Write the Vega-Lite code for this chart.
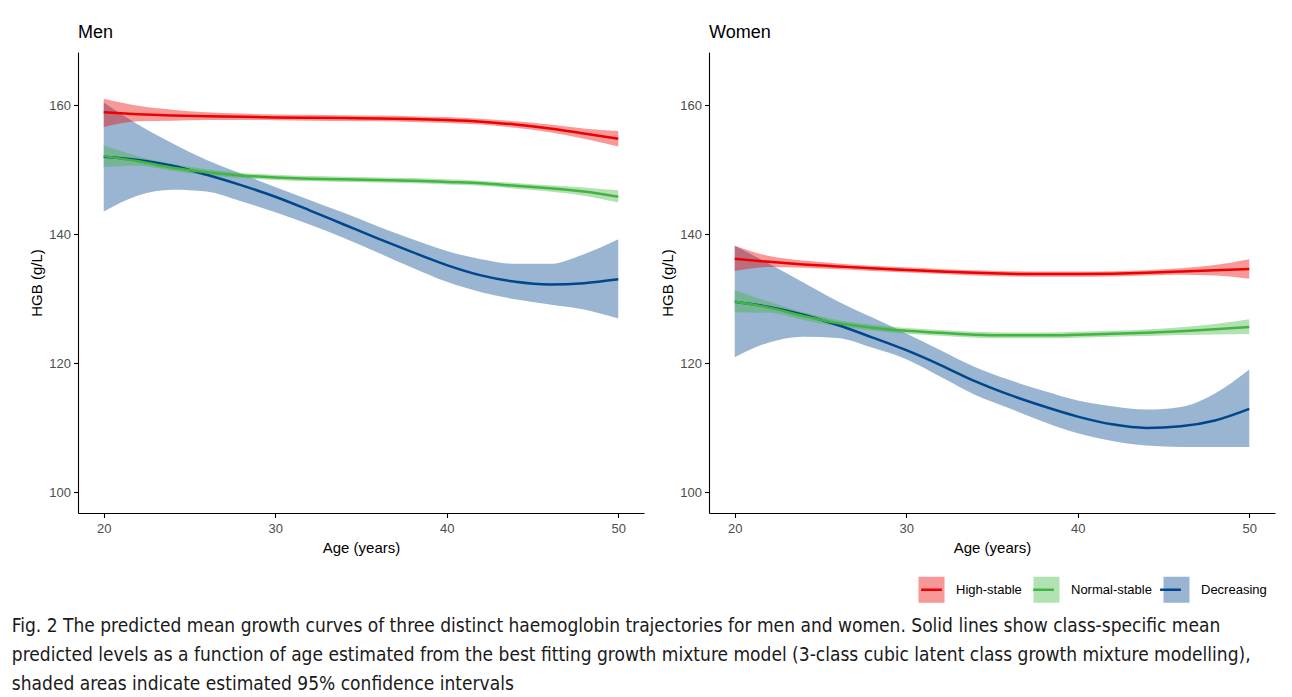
{
  "$schema": "https://vega.github.io/schema/vega-lite/v6.json",
  "background": "white",
  "padding": {"left": 11, "top": 24, "right": 10, "bottom": 5},
  "datasets": {
    "hgb": [
      {"sex":"Men","class":"Decreasing","age":20,"y":152.0,"lo":143.5,"hi":160.4},
      {"sex":"Men","class":"Decreasing","age":22,"y":151.5,"lo":146.0,"hi":157.0},
      {"sex":"Men","class":"Decreasing","age":24,"y":150.6,"lo":146.9,"hi":154.1},
      {"sex":"Men","class":"Decreasing","age":26,"y":149.2,"lo":146.6,"hi":151.5},
      {"sex":"Men","class":"Decreasing","age":28,"y":147.6,"lo":145.1,"hi":149.4},
      {"sex":"Men","class":"Decreasing","age":30,"y":145.8,"lo":143.4,"hi":147.3},
      {"sex":"Men","class":"Decreasing","age":32,"y":143.7,"lo":141.5,"hi":145.3},
      {"sex":"Men","class":"Decreasing","age":34,"y":141.5,"lo":139.4,"hi":143.3},
      {"sex":"Men","class":"Decreasing","age":36,"y":139.3,"lo":137.1,"hi":141.2},
      {"sex":"Men","class":"Decreasing","age":38,"y":137.2,"lo":134.8,"hi":139.2},
      {"sex":"Men","class":"Decreasing","age":40,"y":135.2,"lo":132.6,"hi":137.4},
      {"sex":"Men","class":"Decreasing","age":42,"y":133.6,"lo":131.0,"hi":136.1},
      {"sex":"Men","class":"Decreasing","age":44,"y":132.6,"lo":129.9,"hi":135.4},
      {"sex":"Men","class":"Decreasing","age":46,"y":132.2,"lo":129.1,"hi":135.4},
      {"sex":"Men","class":"Decreasing","age":48,"y":132.4,"lo":128.3,"hi":136.9},
      {"sex":"Men","class":"Decreasing","age":50,"y":133.0,"lo":126.9,"hi":139.2},
      {"sex":"Men","class":"High-stable","age":20,"y":158.9,"lo":156.6,"hi":161.0},
      {"sex":"Men","class":"High-stable","age":22,"y":158.6,"lo":157.5,"hi":159.9},
      {"sex":"Men","class":"High-stable","age":24,"y":158.4,"lo":157.6,"hi":159.3},
      {"sex":"Men","class":"High-stable","age":26,"y":158.3,"lo":157.7,"hi":158.9},
      {"sex":"Men","class":"High-stable","age":28,"y":158.2,"lo":157.7,"hi":158.7},
      {"sex":"Men","class":"High-stable","age":30,"y":158.1,"lo":157.65,"hi":158.55},
      {"sex":"Men","class":"High-stable","age":32,"y":158.05,"lo":157.6,"hi":158.5},
      {"sex":"Men","class":"High-stable","age":34,"y":158.0,"lo":157.55,"hi":158.45},
      {"sex":"Men","class":"High-stable","age":36,"y":157.95,"lo":157.5,"hi":158.4},
      {"sex":"Men","class":"High-stable","age":38,"y":157.85,"lo":157.4,"hi":158.3},
      {"sex":"Men","class":"High-stable","age":40,"y":157.7,"lo":157.25,"hi":158.15},
      {"sex":"Men","class":"High-stable","age":42,"y":157.45,"lo":157.0,"hi":157.9},
      {"sex":"Men","class":"High-stable","age":44,"y":157.0,"lo":156.5,"hi":157.5},
      {"sex":"Men","class":"High-stable","age":46,"y":156.4,"lo":155.8,"hi":157.0},
      {"sex":"Men","class":"High-stable","age":48,"y":155.6,"lo":154.8,"hi":156.4},
      {"sex":"Men","class":"High-stable","age":50,"y":154.8,"lo":153.6,"hi":156.0},
      {"sex":"Men","class":"Normal-stable","age":20,"y":152.1,"lo":150.4,"hi":153.8},
      {"sex":"Men","class":"Normal-stable","age":22,"y":151.3,"lo":150.6,"hi":152.1},
      {"sex":"Men","class":"Normal-stable","age":24,"y":150.3,"lo":149.8,"hi":150.9},
      {"sex":"Men","class":"Normal-stable","age":26,"y":149.6,"lo":149.15,"hi":150.05},
      {"sex":"Men","class":"Normal-stable","age":28,"y":149.1,"lo":148.7,"hi":149.5},
      {"sex":"Men","class":"Normal-stable","age":30,"y":148.8,"lo":148.4,"hi":149.2},
      {"sex":"Men","class":"Normal-stable","age":32,"y":148.6,"lo":148.2,"hi":149.0},
      {"sex":"Men","class":"Normal-stable","age":34,"y":148.5,"lo":148.1,"hi":148.9},
      {"sex":"Men","class":"Normal-stable","age":36,"y":148.4,"lo":148.0,"hi":148.8},
      {"sex":"Men","class":"Normal-stable","age":38,"y":148.3,"lo":147.9,"hi":148.7},
      {"sex":"Men","class":"Normal-stable","age":40,"y":148.1,"lo":147.7,"hi":148.5},
      {"sex":"Men","class":"Normal-stable","age":42,"y":147.9,"lo":147.5,"hi":148.3},
      {"sex":"Men","class":"Normal-stable","age":44,"y":147.5,"lo":147.05,"hi":147.95},
      {"sex":"Men","class":"Normal-stable","age":46,"y":147.1,"lo":146.6,"hi":147.6},
      {"sex":"Men","class":"Normal-stable","age":48,"y":146.6,"lo":145.95,"hi":147.25},
      {"sex":"Men","class":"Normal-stable","age":50,"y":145.8,"lo":144.9,"hi":146.8},
      {"sex":"Women","class":"Decreasing","age":20,"y":129.5,"lo":120.9,"hi":138.2},
      {"sex":"Women","class":"Decreasing","age":22,"y":128.7,"lo":123.2,"hi":135.4},
      {"sex":"Women","class":"Decreasing","age":24,"y":127.5,"lo":124.1,"hi":132.5},
      {"sex":"Women","class":"Decreasing","age":26,"y":125.9,"lo":123.9,"hi":129.6},
      {"sex":"Women","class":"Decreasing","age":28,"y":124.0,"lo":122.4,"hi":127.1},
      {"sex":"Women","class":"Decreasing","age":30,"y":122.0,"lo":120.6,"hi":124.6},
      {"sex":"Women","class":"Decreasing","age":32,"y":119.7,"lo":117.9,"hi":122.0},
      {"sex":"Women","class":"Decreasing","age":34,"y":117.2,"lo":115.1,"hi":119.4},
      {"sex":"Women","class":"Decreasing","age":36,"y":115.1,"lo":113.0,"hi":117.4},
      {"sex":"Women","class":"Decreasing","age":38,"y":113.3,"lo":110.9,"hi":115.7},
      {"sex":"Women","class":"Decreasing","age":40,"y":111.7,"lo":109.1,"hi":114.2},
      {"sex":"Women","class":"Decreasing","age":42,"y":110.5,"lo":107.9,"hi":113.3},
      {"sex":"Women","class":"Decreasing","age":44,"y":109.95,"lo":107.2,"hi":112.8},
      {"sex":"Women","class":"Decreasing","age":46,"y":110.2,"lo":107.0,"hi":113.2},
      {"sex":"Women","class":"Decreasing","age":48,"y":111.1,"lo":107.0,"hi":115.3},
      {"sex":"Women","class":"Decreasing","age":50,"y":112.9,"lo":107.0,"hi":119.0},
      {"sex":"Women","class":"High-stable","age":20,"y":136.2,"lo":134.3,"hi":138.2},
      {"sex":"Women","class":"High-stable","age":22,"y":135.7,"lo":134.9,"hi":136.6},
      {"sex":"Women","class":"High-stable","age":24,"y":135.3,"lo":134.8,"hi":135.9},
      {"sex":"Women","class":"High-stable","age":26,"y":135.0,"lo":134.55,"hi":135.45},
      {"sex":"Women","class":"High-stable","age":28,"y":134.7,"lo":134.3,"hi":135.1},
      {"sex":"Women","class":"High-stable","age":30,"y":134.45,"lo":134.05,"hi":134.85},
      {"sex":"Women","class":"High-stable","age":32,"y":134.2,"lo":133.8,"hi":134.6},
      {"sex":"Women","class":"High-stable","age":34,"y":134.0,"lo":133.6,"hi":134.4},
      {"sex":"Women","class":"High-stable","age":36,"y":133.85,"lo":133.45,"hi":134.25},
      {"sex":"Women","class":"High-stable","age":38,"y":133.8,"lo":133.4,"hi":134.2},
      {"sex":"Women","class":"High-stable","age":40,"y":133.8,"lo":133.4,"hi":134.2},
      {"sex":"Women","class":"High-stable","age":42,"y":133.85,"lo":133.45,"hi":134.25},
      {"sex":"Women","class":"High-stable","age":44,"y":134.0,"lo":133.6,"hi":134.4},
      {"sex":"Women","class":"High-stable","age":46,"y":134.2,"lo":133.7,"hi":134.7},
      {"sex":"Women","class":"High-stable","age":48,"y":134.4,"lo":133.6,"hi":135.2},
      {"sex":"Women","class":"High-stable","age":50,"y":134.6,"lo":133.1,"hi":136.1},
      {"sex":"Women","class":"Normal-stable","age":20,"y":129.5,"lo":127.9,"hi":131.3},
      {"sex":"Women","class":"Normal-stable","age":22,"y":128.6,"lo":127.8,"hi":129.5},
      {"sex":"Women","class":"Normal-stable","age":24,"y":127.3,"lo":126.7,"hi":127.9},
      {"sex":"Women","class":"Normal-stable","age":26,"y":126.2,"lo":125.7,"hi":126.7},
      {"sex":"Women","class":"Normal-stable","age":28,"y":125.5,"lo":125.05,"hi":125.95},
      {"sex":"Women","class":"Normal-stable","age":30,"y":125.0,"lo":124.55,"hi":125.45},
      {"sex":"Women","class":"Normal-stable","age":32,"y":124.7,"lo":124.25,"hi":125.15},
      {"sex":"Women","class":"Normal-stable","age":34,"y":124.4,"lo":123.95,"hi":124.85},
      {"sex":"Women","class":"Normal-stable","age":36,"y":124.3,"lo":123.85,"hi":124.75},
      {"sex":"Women","class":"Normal-stable","age":38,"y":124.3,"lo":123.85,"hi":124.75},
      {"sex":"Women","class":"Normal-stable","age":40,"y":124.4,"lo":123.95,"hi":124.85},
      {"sex":"Women","class":"Normal-stable","age":42,"y":124.55,"lo":124.1,"hi":125.0},
      {"sex":"Women","class":"Normal-stable","age":44,"y":124.7,"lo":124.2,"hi":125.2},
      {"sex":"Women","class":"Normal-stable","age":46,"y":124.95,"lo":124.35,"hi":125.55},
      {"sex":"Women","class":"Normal-stable","age":48,"y":125.25,"lo":124.45,"hi":126.05},
      {"sex":"Women","class":"Normal-stable","age":50,"y":125.6,"lo":124.5,"hi":126.8}
    ]
  },
  "data": {"name": "hgb"},
  "spacing": 16,
  "title": {
    "text": [
      "Fig. 2 The predicted mean growth curves of three distinct haemoglobin trajectories for men and women. Solid lines show class-specific mean",
      "predicted levels as a function of age estimated from the best fitting growth mixture model (3-class cubic latent class growth mixture modelling),",
      "shaded areas indicate estimated 95% confidence intervals"
    ],
    "orient": "bottom",
    "anchor": "start",
    "frame": "bounds",
    "font": "Liberation Sans Narrow, DejaVu Sans Condensed, Roboto Condensed, sans-serif",
    "fontSize": 19,
    "fontWeight": "normal",
    "lineHeight": 29,
    "color": "#1a1a1a",
    "offset": 9,
    "dx": -18
  },
  "hconcat": [
    {
      "title": {"text": "Men", "anchor": "start", "frame": "group", "fontSize": 18, "fontWeight": "normal", "font": "Liberation Sans", "color": "black", "offset": 10},
      "width": 566,
      "height": 461,
      "transform": [{"filter": "datum.sex === 'Men'"}],
      "encoding": {
        "x": {"field": "age", "type": "quantitative", "scale": {"domain": [18.5, 51.5], "nice": false, "zero": false}, "axis": {"values": [20, 30, 40, 50], "title": "Age (years)", "labelPadding": 5, "titlePadding": 5}}
      },
      "layer": [
        {
          "mark": {"type": "area", "fillOpacity": 0.4, "interpolate": "monotone"},
          "encoding": {
            "y": {"field": "lo", "type": "quantitative", "scale": {"domain": [96.75, 168.25], "nice": false, "zero": false}, "axis": {"values": [100, 120, 140, 160], "title": "HGB (g/L)"}},
            "y2": {"field": "hi"},
            "fill": {"field": "class", "type": "nominal", "scale": {"domain": ["High-stable", "Normal-stable", "Decreasing"], "range": ["#ED0000", "#42B540", "#00468B"]},
              "legend": {"orient": "none", "legendX": 839, "legendY": 523, "direction": "horizontal", "title": null, "symbolType": "square", "symbolSize": 676, "symbolOpacity": 0.4, "symbolStrokeWidth": 2.5, "symbolStrokeColor": "transparent", "labelFontSize": 13, "labelFont": "Liberation Sans", "labelColor": "black", "labelOffset": 10, "columnPadding": 6, "padding": 0}}
          }
        },
        {
          "mark": {"type": "line", "strokeWidth": 2.5, "interpolate": "monotone"},
          "encoding": {
            "y": {"field": "y", "type": "quantitative"},
            "stroke": {"field": "class", "type": "nominal", "scale": {"domain": ["High-stable", "Normal-stable", "Decreasing", "zz"], "range": ["#ED0000", "#42B540", "#00468B", "#000000"]},
              "legend": {"orient": "none", "legendX": 839, "legendY": 523, "direction": "horizontal", "title": null, "values": ["High-stable", "Normal-stable", "Decreasing"], "symbolType": "M-0.8,0H0.8", "symbolSize": 676, "symbolStrokeWidth": 2.5, "symbolOpacity": 1, "labelFontSize": 13, "labelFont": "Liberation Sans", "labelOpacity": 0, "labelOffset": 10, "columnPadding": 6, "padding": 0}}
          }
        }
      ]
    },
    {
      "title": {"text": "Women", "anchor": "start", "frame": "group", "fontSize": 18, "fontWeight": "normal", "font": "Liberation Sans", "color": "black", "offset": 10},
      "width": 566,
      "height": 461,
      "transform": [{"filter": "datum.sex === 'Women'"}],
      "encoding": {
        "x": {"field": "age", "type": "quantitative", "scale": {"domain": [18.5, 51.5], "nice": false, "zero": false}, "axis": {"values": [20, 30, 40, 50], "title": "Age (years)", "labelPadding": 5, "titlePadding": 5}}
      },
      "layer": [
        {
          "mark": {"type": "area", "fillOpacity": 0.4, "interpolate": "monotone"},
          "encoding": {
            "y": {"field": "lo", "type": "quantitative", "scale": {"domain": [96.75, 168.25], "nice": false, "zero": false}, "axis": {"values": [100, 120, 140, 160], "title": "HGB (g/L)"}},
            "y2": {"field": "hi"},
            "fill": {"field": "class", "type": "nominal"}
          }
        },
        {
          "mark": {"type": "line", "strokeWidth": 2.5, "interpolate": "monotone"},
          "encoding": {
            "y": {"field": "y", "type": "quantitative"},
            "stroke": {"field": "class", "type": "nominal"}
          }
        }
      ]
    }
  ],
  "config": {
    "view": {"stroke": null},
    "axis": {
      "grid": false,
      "domainColor": "black",
      "domainWidth": 1.1,
      "tickColor": "black",
      "tickWidth": 1.1,
      "tickSize": 4.5,
      "labelColor": "#4D4D4D",
      "labelFont": "Liberation Sans",
      "labelFontSize": 13,
      "labelPadding": 3,
      "titleFont": "Liberation Sans",
      "titleFontSize": 15,
      "titleFontWeight": "normal",
      "titleColor": "black",
      "titlePadding": 4
    }
  }
}
